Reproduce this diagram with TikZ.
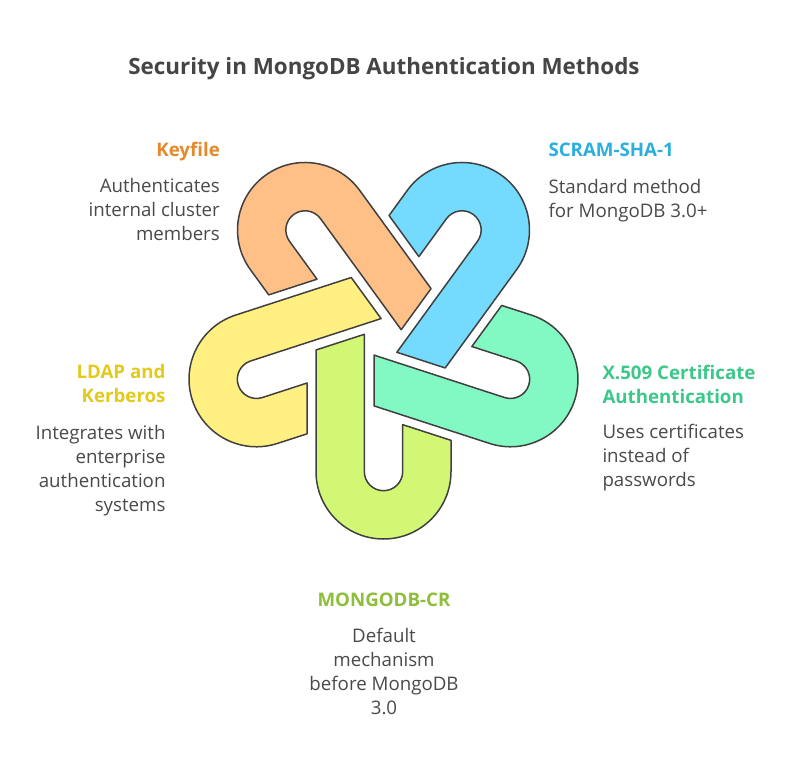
\documentclass[tikz,border=0pt]{standalone}
\usepackage{fontspec}
\setmainfont{Open Sans}
\usepackage{xcolor}
\usepackage{tikz}
\usetikzlibrary{positioning}
\definecolor{bg}{HTML}{FFFFFF}
\definecolor{ink}{HTML}{4A4A4A}
\definecolor{titleink}{HTML}{454545}
\definecolor{edge}{HTML}{404040}
\definecolor{keyfill}{HTML}{FFC087}
\definecolor{scramfill}{HTML}{74DBFF}
\definecolor{xfill}{HTML}{82F9C3}
\definecolor{ldapfill}{HTML}{FFF081}
\definecolor{crfill}{HTML}{D1F774}
\definecolor{keyhead}{HTML}{E5892B}
\definecolor{scramhead}{HTML}{2BAEE0}
\definecolor{xhead}{HTML}{3CC88A}
\definecolor{ldaphead}{HTML}{E2CB1C}
\definecolor{crhead}{HTML}{8DBF3A}
\tikzset{
  hook/.style={draw=edge, line width=1.5pt, line join=round},
  head/.style={font=\fontsize{18.7}{24}\selectfont\bfseries, inner sep=0pt},
  body/.style={text=ink, font=\fontsize{18.7}{24}\selectfont, inner sep=0pt},
  ttl/.style={text=titleink, font=\fontsize{22.4}{28}\selectfont\bfseries, inner sep=0pt},
}

\begin{document}
\begin{tikzpicture}[x=1pt,y=1pt]
\useasboundingbox[fill=bg] (0,0) rectangle (792,769);
\coordinate (ctr) at (383.5,431);
% five hooks, one per method
\foreach \ang/\col in {0/crfill,72/xfill,144/scramfill,216/keyfill,288/ldapfill}
  \draw[hook, fill=\col, shift={(ctr)}, rotate=\ang]
    (-67.5,-12) -- (-67.5,-133.5) arc[start angle=180, end angle=360, radius=67.5]
    -- (67.5,-102.35) -- (19.2,-86.65) -- (19.2,-133.5)
    arc[start angle=0, end angle=-180, radius=19.2] -- (-19.2,3.7) -- cycle;

% multi-line nodes sit on their last baseline
\node[ttl, anchor=base] (title) at (384,694) {Security in MongoDB Authentication Methods};

\node[head, text=keyhead, anchor=base east] (keyT) at (220,612.3) {Keyfile};
\node[body, anchor=base east, align=right] (keyB) at (220,528.3) {Authenticates\\internal cluster\\members};

\node[head, text=scramhead, anchor=base west] (scramT) at (548.3,612.3) {SCRAM-SHA-1};
\node[body, anchor=base west, align=left] (scramB) at (548.3,551.7) {Standard method\\for MongoDB 3.0+};

\node[head, text=ldaphead, anchor=base east, align=right] (ldapT) at (165.7,366) {LDAP and\\Kerberos};
\node[body, anchor=base east, align=right] (ldapB) at (165.7,257.7) {Integrates with\\enterprise\\authentication\\systems};

\node[head, text=xhead, anchor=base west, align=left] (xT) at (602.3,365.7) {X.509 Certificate\\Authentication};
\node[body, anchor=base west, align=left] (xB) at (602.3,282.7) {Uses certificates\\instead of\\passwords};

\node[head, text=crhead, anchor=base] (crT) at (384,162.3) {MONGODB-CR};
\node[body, anchor=base, align=center] (crB) at (384,54.3) {Default\\mechanism\\before MongoDB\\3.0};
\end{tikzpicture}
\end{document}
